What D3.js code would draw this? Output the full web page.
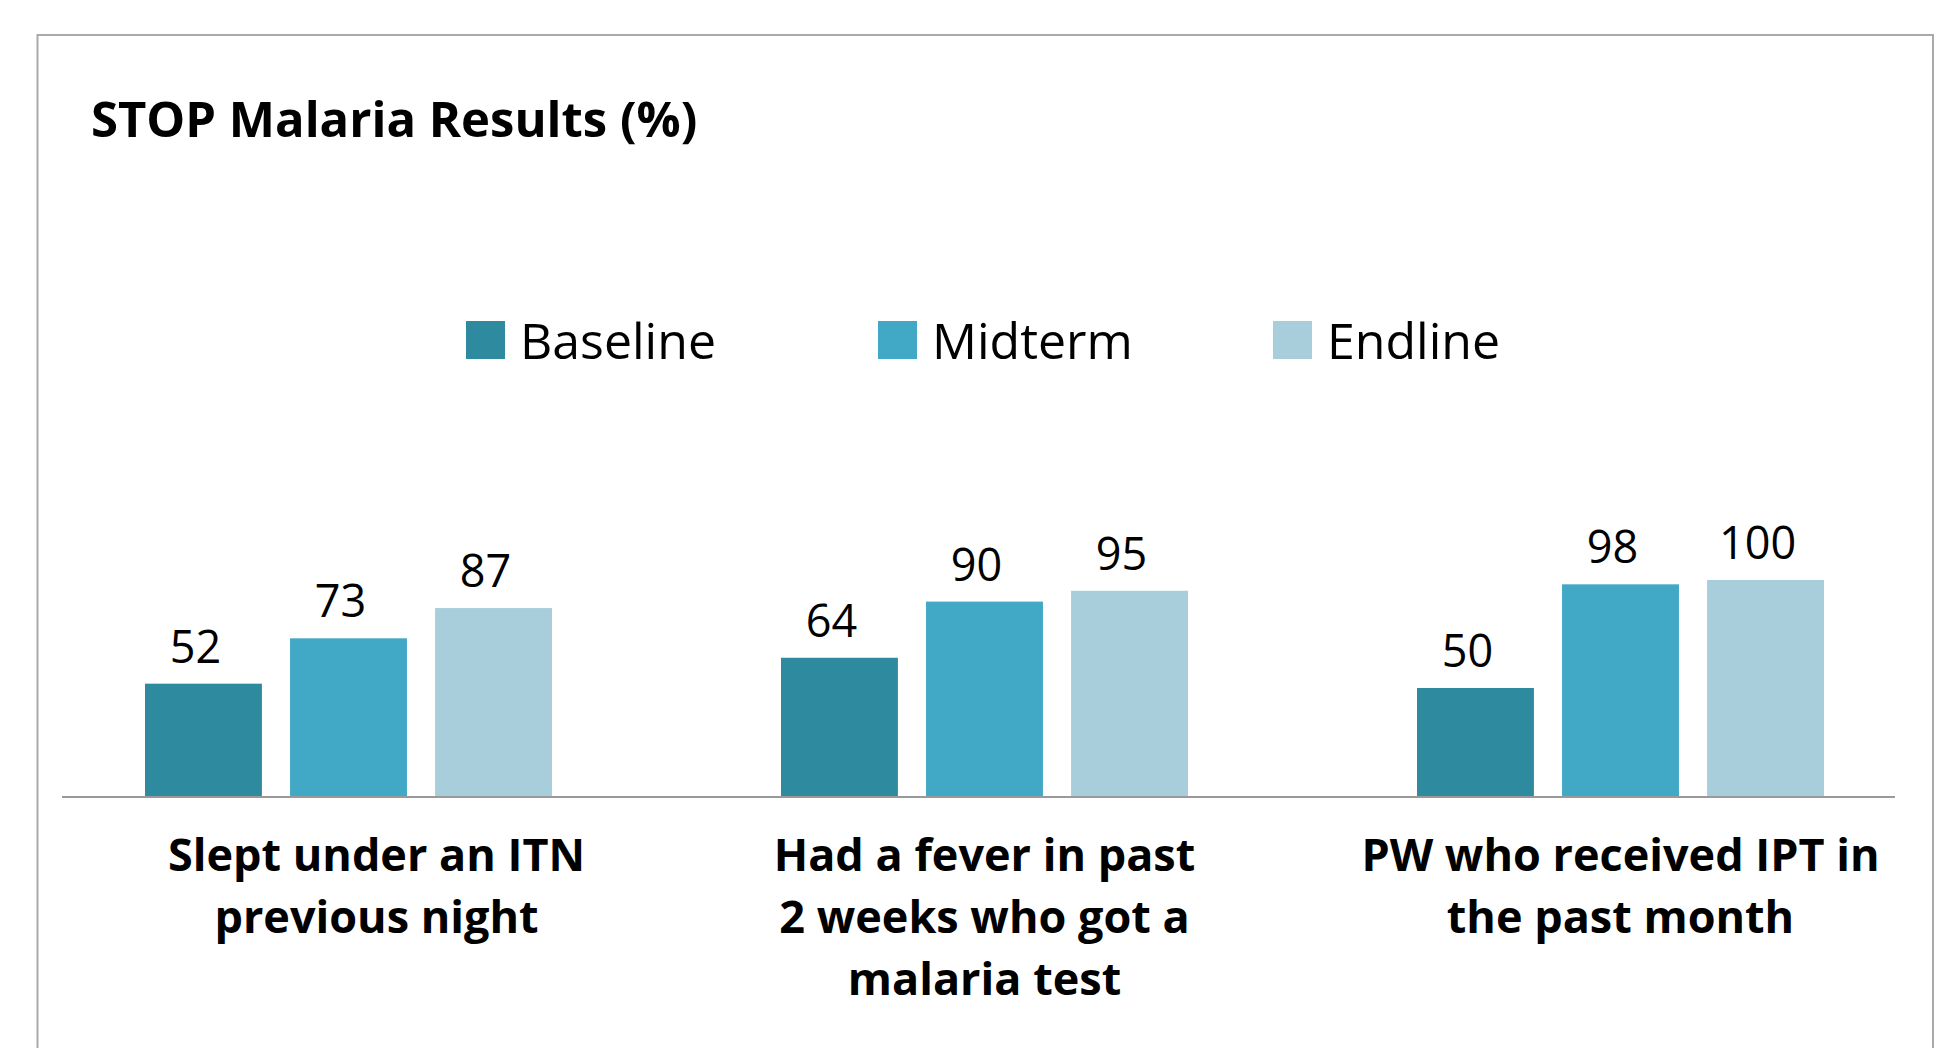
<!DOCTYPE html>
<html>
<head>
<meta charset="utf-8">
<script src="https://cdn.jsdelivr.net/npm/d3@7"></script>
<style>
  body { margin: 0; background: #fff; }
  text { font-family: "Open Sans", "Noto Sans", sans-serif; fill: #000; }
</style>
</head>
<body>
<div id="chart"></div>
<script>
// data
var categories = ["itn", "fever", "ipt"];
var categoryLines = [
  ["Slept under an ITN", "previous night"],
  ["Had a fever in past", "2 weeks who got a", "malaria test"],
  ["PW who received IPT in", "the past month"]
];
var seriesNames = ["Baseline", "Midterm", "Endline"];
var baselineValues = [52, 64, 50];
var midtermValues = [73, 90, 98];
var endlineValues = [87, 95, 100];
var seriesColors = ["#2d8a9f", "#41a8c5", "#a8cddb"];

const width = 1959,
  height = 1048;

const svg = d3
  .select("#chart")
  .append("svg")
  .attr("width", width)
  .attr("height", height);

// frame
svg
  .append("rect")
  .attr("x", 37.5)
  .attr("y", 35)
  .attr("width", 1933 - 37.5)
  .attr("height", 1100)
  .attr("fill", "none")
  .attr("stroke", "#aaaaaa")
  .attr("stroke-width", 2);

// title
svg
  .append("text")
  .attr("x", 91)
  .attr("y", 137)
  .attr("font-size", "49px")
  .attr("font-weight", "bold")
  .text("STOP Malaria Results (%)");

// scales
const x0 = d3.scaleBand().domain(categories).range([30.5, 1938.5]);
const groupW = 407;
const x1 = d3
  .scaleBand()
  .domain(seriesNames)
  .range([(x0.bandwidth() - groupW) / 2, (x0.bandwidth() + groupW) / 2])
  .paddingInner(0.194);
const y = d3.scaleLinear().domain([0, 100]).range([796, 580]);
const color = d3.scaleOrdinal().domain(seriesNames).range(seriesColors);

const rows = categories.map(function (c, i) {
  return {
    cat: c,
    values: [
      { key: "Baseline", value: baselineValues[i] },
      { key: "Midterm", value: midtermValues[i] },
      { key: "Endline", value: endlineValues[i] },
    ],
  };
});

// bars
const groups = svg
  .append("g")
  .selectAll("g")
  .data(rows)
  .join("g")
  .attr("transform", function (d) {
    return `translate(${x0(d.cat)},0)`;
  });

groups
  .selectAll("rect")
  .data(function (d) {
    return d.values;
  })
  .join("rect")
  .attr("x", function (d) {
    return x1(d.key);
  })
  .attr("y", function (d) {
    return y(d.value);
  })
  .attr("width", x1.bandwidth())
  .attr("height", function (d) {
    return y(0) - y(d.value);
  })
  .attr("fill", function (d) {
    return color(d.key);
  });

// value labels (sit a little left of the bar centre in the original)
groups
  .selectAll("text")
  .data(function (d) {
    return d.values;
  })
  .join("text")
  .attr("x", function (d) {
    return x1(d.key) + x1.bandwidth() / 2 - 8;
  })
  .attr("y", function (d) {
    return y(d.value) - 21;
  })
  .attr("text-anchor", "middle")
  .attr("font-size", "45px")
  .text(function (d) {
    return d.value;
  });

// baseline axis
svg
  .append("line")
  .attr("x1", 62)
  .attr("x2", 1895)
  .attr("y1", y(0) + 1)
  .attr("y2", y(0) + 1)
  .attr("stroke", "#999999")
  .attr("stroke-width", 2);

// category labels
svg
  .append("g")
  .selectAll("text")
  .data(categories)
  .join("text")
  .attr("y", 871)
  .attr("text-anchor", "middle")
  .attr("font-size", "45px")
  .attr("font-weight", "bold")
  .each(function (d, i) {
    const t = d3.select(this);
    const cx = x0(d) + x0.bandwidth() / 2 + (i == 0 ? 28 : 0);
    categoryLines[i].forEach(function (line, j) {
      t.append("tspan")
        .attr("x", cx)
        .attr("dy", j == 0 ? 0 : 62)
        .text(line);
    });
  });

// legend
const legendX = [466, 878, 1273];
const legend = svg
  .append("g")
  .selectAll("g")
  .data(seriesNames)
  .join("g")
  .attr("transform", function (d, i) {
    return `translate(${legendX[i]}, 0)`;
  });

legend
  .append("rect")
  .attr("x", 0)
  .attr("y", 321)
  .attr("width", 39)
  .attr("height", 38)
  .attr("fill", function (d) {
    return color(d);
  });

legend
  .append("text")
  .attr("x", 54)
  .attr("y", 359)
  .attr("font-size", "50px")
  .text(function (d) {
    return d;
  });
</script>
</body>
</html>
